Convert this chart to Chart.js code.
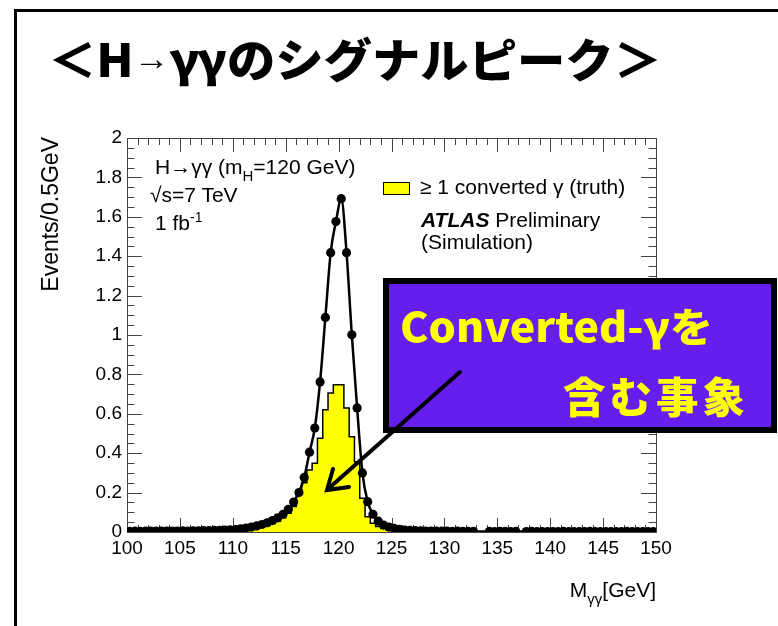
<!DOCTYPE html>
<html lang="ja">
<head>
<meta charset="UTF-8" />
<title>H→γγ signal peak</title>
<script src="https://cdn.jsdelivr.net/npm/chart.js"></script>
<style>
  body { margin: 0; width: 778px; height: 626px; position: relative; overflow: hidden; background: #fff; }
  canvas { position: absolute; left: 0; top: 0; }
  .slide { position: absolute; left: 14px; top: 9px; width: 820px; height: 700px; border: 3px solid #000; }
  .t { position: absolute; font-family: "Liberation Sans", Arial, sans-serif; font-size: 21px; line-height: 21px; white-space: nowrap; color: #000; }
  .t sub { font-size: 15px; vertical-align: -7px; line-height: 0; }
  .t sup { font-size: 14px; vertical-align: 8px; line-height: 0; }
  #title { position: absolute; left: 48px; top: 34px; font-family: "Noto Sans CJK JP", sans-serif; font-weight: 900; font-size: 46px; line-height: 46px; white-space: nowrap; transform-origin: 0 0; }
  #title .arr { font-family: "Liberation Sans", sans-serif; font-weight: 400; font-size: 34px; vertical-align: 7px; }
  .lbox { position: absolute; left: 383px; top: 182px; width: 25px; height: 11px; background: #ffff00; border: 1px solid #000; }
  .callout { position: absolute; left: 383px; top: 278px; width: 394px; height: 155px; box-sizing: border-box; border: 6px solid #000; background: #661eee; }
  .cj { position: absolute; font-family: "Noto Sans CJK JP", sans-serif; font-weight: 900; color: #ffff00; white-space: nowrap; transform-origin: 0 0; }
  svg { position: absolute; left: 0; top: 0; }
</style>
</head>
<body>
<canvas id="c" width="778" height="626"></canvas>
<div class="slide"></div>
<div id="title">＜H<span class="arr">→</span>γγのシグナルピーク＞</div>

<div class="t" style="left:155px;top:156px">H→γγ (m<sub>H</sub>=120 GeV)</div>
<div class="t" style="left:150px;top:184px">√s=7 TeV</div>
<div class="t" style="left:155px;top:212px">1 fb<sup>-1</sup></div>

<div class="lbox"></div>
<div class="t" style="left:420px;top:176px">≥ 1 converted γ (truth)</div>
<div class="t" style="left:421px;top:209px"><b><i>ATLAS</i></b> Preliminary</div>
<div class="t" style="left:421px;top:231px">(Simulation)</div>

<div class="t" style="left:39px;top:337px;width:200px;text-align:right;font-size:23px;line-height:23px;transform-origin:0 0;transform:rotate(-90deg)">Events/0.5GeV</div>
<div class="t" style="left:456px;top:579px;width:200px;text-align:right">M<sub>γγ</sub>[GeV]</div>

<div class="callout"></div>
<div class="cj" id="cv" style="left:400px;top:300px;font-size:40px;line-height:50px">Converted-γを</div>
<div class="cj" id="fk" style="left:563px;top:370px;font-size:42px;line-height:50px;letter-spacing:4px">含む事象</div>

<svg width="778" height="626">
  <g stroke="#000" stroke-width="4" stroke-linecap="round" fill="none">
    <line x1="460" y1="372" x2="328" y2="489" />
    <polyline points="333,469 327,490 349,487" />
  </g>
</svg>

<script>
  const binCenters = [
    100.25,100.75,101.25,101.75,102.25,102.75,103.25,103.75,104.25,104.75,
    105.25,105.75,106.25,106.75,107.25,107.75,108.25,108.75,109.25,109.75,
    110.25,110.75,111.25,111.75,112.25,112.75,113.25,113.75,114.25,114.75,
    115.25,115.75,116.25,116.75,117.25,117.75,118.25,118.75,119.25,119.75,
    120.25,120.75,121.25,121.75,122.25,122.75,123.25,123.75,124.25,124.75,
    125.25,125.75,126.25,126.75,127.25,127.75,128.25,128.75,129.25,129.75,
    130.25,130.75,131.25,131.75,132.25,132.75,133.25,133.75,134.25,134.75,
    135.25,135.75,136.25,136.75,137.25,137.75,138.25,138.75,139.25,139.75,
    140.25,140.75,141.25,141.75,142.25,142.75,143.25,143.75,144.25,144.75,
    145.25,145.75,146.25,146.75,147.25,147.75,148.25,148.75,149.25,149.75
  ];

  // all events (black points)
  const allEvents = [
    0.003,0.004,0.003,0.004,0.004,0.005,0.004,0.005,0.005,0.005,
    0.006,0.005,0.006,0.006,0.007,0.007,0.008,0.009,0.010,0.011,
    0.012,0.016,0.020,0.025,0.031,0.038,0.047,0.058,0.072,0.090,
    0.115,0.152,0.200,0.277,0.405,0.528,0.762,1.089,1.418,1.576,
    1.692,1.418,1.001,0.630,0.300,0.154,0.090,0.055,0.035,0.025,
    0.018,0.013,0.010,0.008,0.007,0.006,0.005,0.005,0.004,0.004,
    0.004,0.003,0.004,0.003,0.003,0.003,null,null,0.003,0.002,
    0.003,0.003,0.002,0.003,null,0.002,0.003,0.002,0.002,0.002,
    0.002,0.002,0.003,0.002,0.002,0.002,0.002,0.003,0.002,0.002,
    0.002,0.002,0.002,0.002,0.003,0.002,0.002,0.002,0.002,0.002
  ];

  // >= 1 converted photon (yellow histogram)
  const converted = [
    0.001,0.001,0.001,0.001,0.001,0.001,0.001,0.001,0.002,0.001,
    0.002,0.002,0.002,0.002,0.003,0.003,0.003,0.004,0.004,0.005,
    0.005,0.007,0.010,0.014,0.019,0.025,0.033,0.043,0.055,0.072,
    0.095,0.130,0.190,0.250,0.315,0.349,0.476,0.620,0.705,0.747,
    0.747,0.629,0.484,0.357,0.171,0.078,0.045,0.028,0.018,0.012,
    0.008,0.006,0.005,0.004,0.003,0.003,0.002,0.002,0.002,0.002,
    0.002,0.001,0.002,0.001,0.001,0.001,0.001,0.001,0.001,0.001,
    0.001,0.001,0.001,0.001,0.001,0.001,0.001,0.001,0.001,0.001,
    0.001,0.001,0.001,0.001,0.001,0.001,0.001,0.001,0.001,0.001,
    0.001,0.001,0.001,0.001,0.001,0.001,0.001,0.001,0.001,0.001
  ];

  const xTicks = [100, 105, 110, 115, 120, 125, 130, 135, 140, 145, 150];
  const yTicks = [0, 0.2, 0.4, 0.6, 0.8, 1, 1.2, 1.4, 1.6, 1.8, 2];

  // ROOT-style frame with inward ticks on all four sides
  const frameTicks = {
    id: 'frameTicks',
    beforeDatasetsDraw(chart) {
      const { ctx, chartArea: a, scales: { x, y } } = chart;
      ctx.save();
      ctx.strokeStyle = '#444';
      ctx.lineWidth = 1;
      ctx.strokeRect(Math.round(a.left) + 0.5, Math.round(a.top) + 0.5,
        Math.round(a.right - a.left), Math.round(a.bottom - a.top));
      ctx.beginPath();
      for (let v = 100; v <= 150; v++) {
        const px = Math.round(x.getPixelForValue(v)) + 0.5;
        const len = xTicks.includes(v) ? 14 : 7;
        ctx.moveTo(px, a.bottom); ctx.lineTo(px, a.bottom - len);
        ctx.moveTo(px, a.top); ctx.lineTo(px, a.top + len);
      }
      for (let k = 0; k <= 40; k++) {
        const py = Math.round(y.getPixelForValue(k * 0.05)) + 0.5;
        const len = k % 4 === 0 ? 15 : 7.5;
        ctx.moveTo(a.left, py); ctx.lineTo(a.left + len, py);
        ctx.moveTo(a.right, py); ctx.lineTo(a.right - len, py);
      }
      ctx.stroke();
      ctx.restore();
    }
  };

  new Chart(document.getElementById('c'), {
    type: 'line',
    data: {
      datasets: [
        {
          label: 'all',
          data: binCenters.map((x, i) => ({ x, y: allEvents[i] })),
          borderColor: '#000',
          borderWidth: 2.5,
          pointRadius: 4.6,
          pointBackgroundColor: '#000',
          pointBorderWidth: 0,
          cubicInterpolationMode: 'monotone',
          spanGaps: true,
          fill: false
        },
        {
          label: '≥ 1 converted γ (truth)',
          data: binCenters.map((x, i) => ({ x, y: converted[i] })),
          stepped: 'middle',
          fill: 'origin',
          backgroundColor: '#ffff00',
          borderColor: '#000',
          borderWidth: 1.5,
          pointRadius: 0
        }
      ]
    },
    options: {
      responsive: false,
      animation: false,
      devicePixelRatio: 1,
      layout: { padding: { left: 0, top: 138, right: 122, bottom: 54 } },
      plugins: { legend: { display: false }, tooltip: { enabled: false } },
      scales: {
        x: {
          type: 'linear', min: 100, max: 150,
          grid: { display: false, drawTicks: false }, border: { display: false },
          afterBuildTicks: s => { s.ticks = xTicks.map(v => ({ value: v })); },
          afterFit: s => { s.height = 40; },
          ticks: { color: '#000', padding: 5, maxRotation: 0, autoSkip: false,
            font: { family: 'Liberation Sans', size: 19 } }
        },
        y: {
          type: 'linear', min: 0, max: 2,
          grid: { display: false, drawTicks: false }, border: { display: false },
          afterBuildTicks: s => { s.ticks = yTicks.map(v => ({ value: v })); },
          afterFit: s => { s.width = 127; },
          ticks: { color: '#000', padding: 5, autoSkip: false,
            callback: v => String(+v.toFixed(1)),
            font: { family: 'Liberation Sans', size: 19 } }
        }
      }
    },
    plugins: [frameTicks]
  });

  function fitWidth(id, w) {
    const el = document.getElementById(id);
    el.style.transform = 'scaleX(' + (w / el.getBoundingClientRect().width) + ')';
  }
  fitWidth('title', 614);
  fitWidth('cv', 313);
  fitWidth('fk', 186);
</script>
</body>
</html>
